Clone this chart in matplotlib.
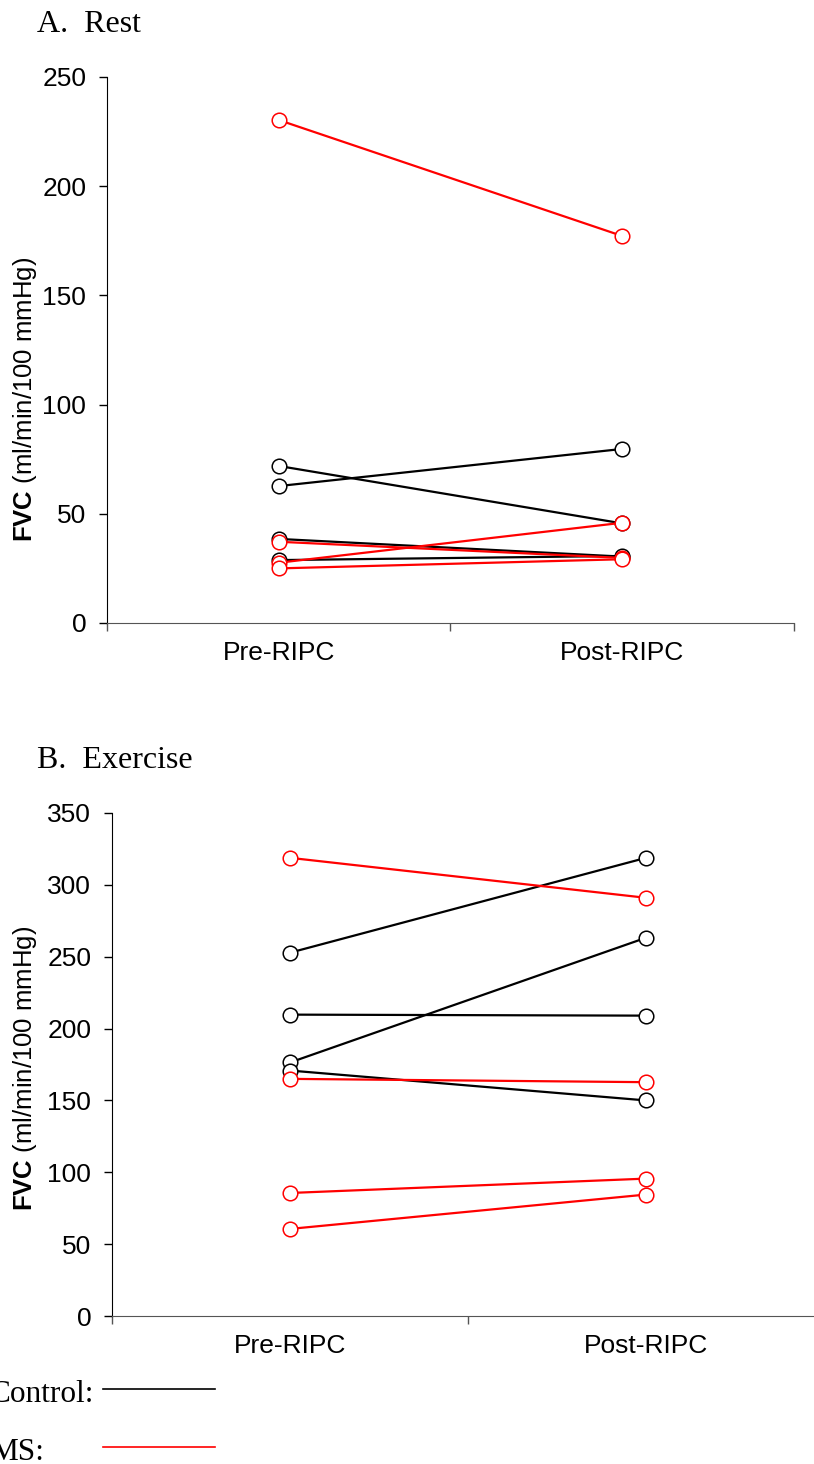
import numpy as np
import matplotlib
matplotlib.use('Agg')
import matplotlib.pyplot as plt

plt.rcParams['font.family'] = ['Liberation Sans', 'DejaVu Sans']
plt.rcParams['mathtext.fontset'] = 'custom'
plt.rcParams['mathtext.rm'] = 'Liberation Sans'
plt.rcParams['mathtext.bf'] = 'Liberation Sans:bold'

# data
conditions = ['Pre-RIPC', 'Post-RIPC']

rest_control = [[71.9, 45.6], [62.7, 79.7], [38.5, 30.4], [28.8, 30.7]]
rest_ms = [[230.3, 177.2], [37.2, 29.8], [27.6, 45.9], [25.0, 29.2]]

ex_control = [[252.8, 318.8], [209.7, 209.0], [176.4, 263.2], [170.8, 150.0]]
ex_ms = [[318.8, 291.0], [165.0, 162.7], [85.6, 95.6], [60.6, 84.5]]

W, H = 814, 1464
fig = plt.figure(figsize=(W / 100, H / 100), dpi=100)


def px_axes(left, top, right, bottom):
    return fig.add_axes([left / W, 1 - bottom / H, (right - left) / W, (bottom - top) / H])


def panel(ax, control, ms, ymax, step):
    xpos = [0.5, 1.5]
    for vals in control:
        ax.plot(xpos, vals, color='black', lw=1.6, marker='o', ms=10.5,
                mfc='white', mec='black', mew=1.1, clip_on=False, zorder=3)
    for vals in ms:
        ax.plot(xpos, vals, color='#ff0000', lw=1.6, marker='o', ms=10.5,
                mfc='white', mec='#ff0000', mew=1.1, clip_on=False, zorder=4)
    ax.set_xlim(0, 2)
    ax.set_ylim(0, ymax)
    ax.set_yticks(np.arange(0, ymax + 1, step))
    ax.set_xticks([0, 1, 2])
    ax.set_xticks(xpos, minor=True)
    ax.set_xticklabels([])
    ax.set_xticklabels(conditions, minor=True)
    ax.tick_params(axis='x', which='minor', length=0, pad=13, labelsize=19)
    ax.tick_params(axis='x', which='major', length=6, width=1, direction='out', color='#555555')
    ax.tick_params(axis='y', length=6, width=1, direction='out', pad=9, labelsize=19)
    ax.spines['top'].set_visible(False)
    ax.spines['right'].set_visible(False)
    ax.spines['bottom'].set_color('#555555')
    ax.spines['left'].set_color('black')


ax1 = px_axes(107, 77, 794, 623)
panel(ax1, rest_control, rest_ms, 250, 50)

ax2 = px_axes(112, 813, 824, 1316)
panel(ax2, ex_control, ex_ms, 350, 50)

ylab = r'$\mathbf{FVC}$ (ml/min/100 mmHg)'
fig.text(25 / W, 1 - 399 / H, ylab, rotation=90, ha='center', va='center', fontsize=18.5)
fig.text(25 / W, 1 - 1068 / H, ylab, rotation=90, ha='center', va='center', fontsize=18.5)

serif = ['Liberation Serif', 'DejaVu Serif']
fig.text(37 / W, 1 - 24 / H, 'A.  Rest', family=serif, fontsize=23, ha='left', va='center')
fig.text(37 / W, 1 - 760 / H, 'B.  Exercise', family=serif, fontsize=23, ha='left', va='center')

# legend drawn as figure text and lines (cut at the left edge, as in the reference)
fig.text(-10 / W, 1 - 1394 / H, 'Control:', family=serif, fontsize=22.5, ha='left', va='center')
fig.text(-10 / W, 1 - 1452 / H, 'MS:', family=serif, fontsize=22.5, ha='left', va='center')
fig.add_artist(plt.Line2D([103 / W, 215 / W], [1 - 1389 / H, 1 - 1389 / H], color='black', lw=1.2))
fig.add_artist(plt.Line2D([103 / W, 215 / W], [1 - 1447 / H, 1 - 1447 / H], color='#ff0000', lw=1.2))

fig.savefig('out.png', dpi=100)
